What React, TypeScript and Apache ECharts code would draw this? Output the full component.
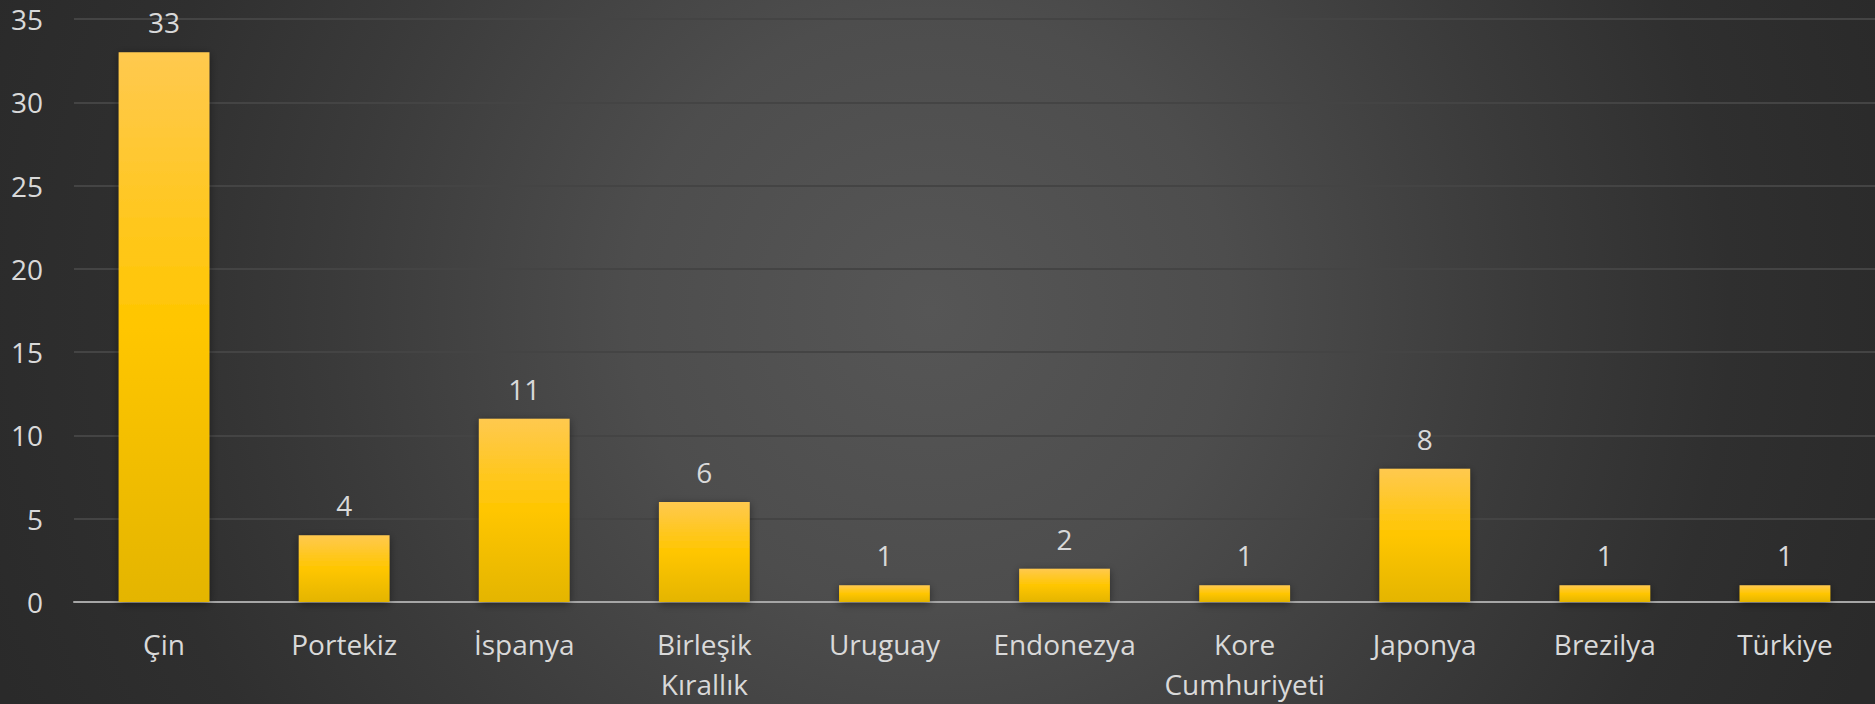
import React, { useEffect, useRef } from "react";
import * as echarts from "echarts";

const categories = [
  "Çin",
  "Portekiz",
  "İspanya",
  "Birleşik\nKırallık",
  "Uruguay",
  "Endonezya",
  "Kore\nCumhuriyeti",
  "Japonya",
  "Brezilya",
  "Türkiye",
];
const values = [33, 4, 11, 6, 1, 2, 1, 8, 1, 1];
const yMin = 0;
const yMax = 35;
const yStep = 5;

export default function App() {
  const ref = useRef<HTMLDivElement>(null);
  useEffect(() => {
    if (!ref.current) return;
    const chart = echarts.init(ref.current, undefined, { renderer: "svg" });
    const font = "'Open Sans', sans-serif";
    chart.setOption({
      animation: false,
      backgroundColor: {
        type: "radial",
        x: 930,
        y: 310,
        r: 1000,
        global: true,
        colorStops: [
          { offset: 0, color: "#565656" },
          { offset: 0.3, color: "#4d4d4d" },
          { offset: 0.52, color: "#3f3f3f" },
          { offset: 0.6, color: "#3a3a3a" },
          { offset: 0.8, color: "#2f2f2f" },
          { offset: 1, color: "#2a2a2a" },
        ],
      },
      grid: { left: 74, right: -6, top: 19, bottom: 101, containLabel: false },
      xAxis: {
        type: "category",
        data: categories,
        axisLine: { show: true, lineStyle: { color: "#a6a6a6", width: 2 } },
        axisTick: { show: false },
        axisLabel: {
          color: "#d9d9d9",
          fontFamily: font,
          fontSize: 28,
          lineHeight: 40,
          margin: 22,
          interval: 0,
        },
      },
      yAxis: {
        type: "value",
        min: yMin,
        max: yMax,
        interval: yStep,
        axisLine: { show: false },
        axisTick: { show: false },
        splitLine: { lineStyle: { color: "#444444", width: 2 } },
        axisLabel: {
          color: "#d9d9d9",
          fontFamily: font,
          fontSize: 28,
          margin: 31,
        },
      },
      series: [
        {
          type: "bar",
          data: values,
          barWidth: "50.4%",
          itemStyle: {
            color: {
              type: "linear",
              x: 0,
              y: 0,
              x2: 0,
              y2: 1,
              colorStops: [
                { offset: 0, color: "#ffc94f" },
                { offset: 0.5, color: "#ffc600" },
                { offset: 1, color: "#e4b500" },
              ],
            },
            shadowColor: "rgba(0,0,0,0.45)",
            shadowBlur: 8,
            shadowOffsetX: 0,
            shadowOffsetY: 2,
          },
          label: {
            show: true,
            position: "top",
            distance: 16,
            color: "#d9d9d9",
            fontFamily: font,
            fontSize: 28,
            lineHeight: 28,
          },
        },
      ],
    });
    return () => chart.dispose();
  }, []);
  return (
    <div
      ref={ref}
      style={{ position: "absolute", left: 0, top: 0, width: 1875, height: 704 }}
    />
  );
}
